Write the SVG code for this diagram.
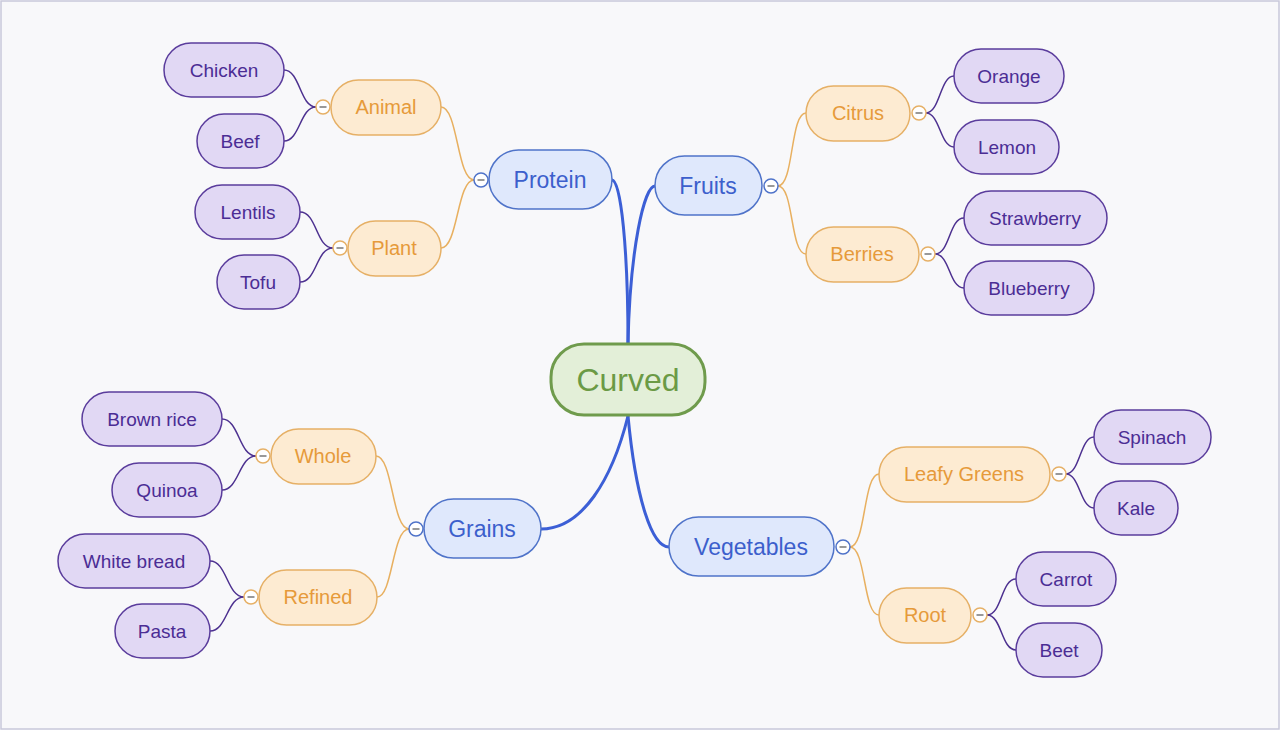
<svg xmlns="http://www.w3.org/2000/svg" width="1280" height="730" viewBox="0 0 1280 730">
<style>
text{font-family:"Liberation Sans",Arial,Helvetica,sans-serif;text-anchor:middle;dominant-baseline:central}
.root rect{fill:#e3efd8;stroke:#6f9b4c;stroke-width:3}
.root text{fill:#6b9a45;font-size:32px}
.l1 rect{fill:#dfe8fc;stroke:#4f73c9;stroke-width:1.5}
.l1 text{fill:#3c5fcc;font-size:23px}
.l2 rect{fill:#fdebd2;stroke:#e6b066;stroke-width:1.5}
.l2 text{fill:#e69a3a;font-size:20px}
.l3 rect{fill:#e1d8f4;stroke:#5a3c9c;stroke-width:1.5}
.l3 text{fill:#4b2d94;font-size:19px}
.c1 path{fill:none;stroke:#3c5fd6;stroke-width:3;stroke-linecap:round}
.c2 path{fill:none;stroke:#e8b060;stroke-width:1.5}
.c3 path{fill:none;stroke:#4d3190;stroke-width:1.5}
.tg circle{fill:#ffffff;stroke-width:1.5}
.tg line{stroke:#777;stroke-width:1.5}
.tb circle{stroke:#4f73c9}
.to circle{stroke:#e6b066}
</style>
<rect x="1" y="1" width="1278" height="728" fill="#f8f8fa" stroke="#c8c8da" stroke-width="1.5"/>
<g id="connectors">
<g class="c1">
<path d="M628,343 C628,250 621,180 612,180"/>
<path d="M628,343 C630,250 644,186 655,186"/>
<path d="M628,416 C612,480 582,529 541,529"/>
<path d="M628,416 C636,500 652,547 669,547"/>
</g>
<g class="c2">
<path d="M474,180 C457,180 458,107 441,107"/>
<path d="M474,180 C457,180 458,248 441,248"/>
<path d="M409,529 C392,529 393,456 376,456"/>
<path d="M409,529 C392,529 393,597 377,597"/>
<path d="M778,186 C794,186 790,113 806,113"/>
<path d="M778,186 C794,186 790,254 806,254"/>
<path d="M850,547 C866,547 863,474 879,474"/>
<path d="M850,547 C866,547 863,615 879,615"/>
</g>
<g class="c3">
<path d="M316,107 C300,107 300,70 284,70"/>
<path d="M316,107 C300,107 300,141 284,141"/>
<path d="M333,248 C316,248 317,212 300,212"/>
<path d="M333,248 C316,248 317,282 300,282"/>
<path d="M256,456 C239,456 239,419 222,419"/>
<path d="M256,456 C239,456 239,490 222,490"/>
<path d="M244,597 C227,597 227,561 210,561"/>
<path d="M244,597 C227,597 227,631 210,631"/>
<path d="M926,113 C940,113 940,76 954,76"/>
<path d="M926,113 C940,113 940,147 954,147"/>
<path d="M935,254 C950,254 949,218 964,218"/>
<path d="M935,254 C950,254 949,288 964,288"/>
<path d="M1066,474 C1080,474 1080,437 1094,437"/>
<path d="M1066,474 C1080,474 1080,508 1094,508"/>
<path d="M987,615 C1002,615 1001,579 1016,579"/>
<path d="M987,615 C1002,615 1001,650 1016,650"/>
</g>
</g>
<g id="root" class="root"><rect x="551" y="344" width="154" height="71" rx="33"/><text x="628" y="380">Curved</text></g>
<g id="protein" class="l1"><rect x="489" y="150" width="123" height="59" rx="29.5"/><text x="550" y="180">Protein</text></g>
<g id="fruits" class="l1"><rect x="655" y="156" width="107" height="59" rx="29.5"/><text x="708" y="186">Fruits</text></g>
<g id="grains" class="l1"><rect x="424" y="499" width="117" height="59" rx="29.5"/><text x="482" y="529">Grains</text></g>
<g id="vegetables" class="l1"><rect x="669" y="517" width="165" height="59" rx="29.5"/><text x="751" y="547">Vegetables</text></g>
<g id="animal" class="l2"><rect x="331" y="80" width="110" height="55" rx="27.5"/><text x="386" y="107">Animal</text></g>
<g id="plant" class="l2"><rect x="348" y="221" width="93" height="55" rx="27.5"/><text x="394" y="248">Plant</text></g>
<g id="citrus" class="l2"><rect x="806" y="86" width="104" height="55" rx="27.5"/><text x="858" y="113">Citrus</text></g>
<g id="berries" class="l2"><rect x="806" y="227" width="113" height="55" rx="27.5"/><text x="862" y="254">Berries</text></g>
<g id="whole" class="l2"><rect x="271" y="429" width="105" height="55" rx="27.5"/><text x="323" y="456">Whole</text></g>
<g id="refined" class="l2"><rect x="259" y="570" width="118" height="55" rx="27.5"/><text x="318" y="597">Refined</text></g>
<g id="leafy" class="l2"><rect x="879" y="447" width="171" height="55" rx="27.5"/><text x="964" y="474">Leafy Greens</text></g>
<g id="rootveg" class="l2"><rect x="879" y="588" width="92" height="55" rx="27.5"/><text x="925" y="615">Root</text></g>
<g id="chicken" class="l3"><rect x="164" y="43" width="120" height="54" rx="27"/><text x="224" y="70">Chicken</text></g>
<g id="beef" class="l3"><rect x="197" y="114" width="87" height="54" rx="27"/><text x="240" y="141">Beef</text></g>
<g id="lentils" class="l3"><rect x="195" y="185" width="105" height="54" rx="27"/><text x="248" y="212">Lentils</text></g>
<g id="tofu" class="l3"><rect x="217" y="255" width="83" height="54" rx="27"/><text x="258" y="282">Tofu</text></g>
<g id="orange" class="l3"><rect x="954" y="49" width="110" height="54" rx="27"/><text x="1009" y="76">Orange</text></g>
<g id="lemon" class="l3"><rect x="954" y="120" width="105" height="54" rx="27"/><text x="1007" y="147">Lemon</text></g>
<g id="strawberry" class="l3"><rect x="964" y="191" width="143" height="54" rx="27"/><text x="1035" y="218">Strawberry</text></g>
<g id="blueberry" class="l3"><rect x="964" y="261" width="130" height="54" rx="27"/><text x="1029" y="288">Blueberry</text></g>
<g id="brownrice" class="l3"><rect x="82" y="392" width="140" height="54" rx="27"/><text x="152" y="419">Brown rice</text></g>
<g id="quinoa" class="l3"><rect x="112" y="463" width="110" height="54" rx="27"/><text x="167" y="490">Quinoa</text></g>
<g id="whitebread" class="l3"><rect x="58" y="534" width="152" height="54" rx="27"/><text x="134" y="561">White bread</text></g>
<g id="pasta" class="l3"><rect x="115" y="604" width="95" height="54" rx="27"/><text x="162" y="631">Pasta</text></g>
<g id="spinach" class="l3"><rect x="1094" y="410" width="117" height="54" rx="27"/><text x="1152" y="437">Spinach</text></g>
<g id="kale" class="l3"><rect x="1094" y="481" width="84" height="54" rx="27"/><text x="1136" y="508">Kale</text></g>
<g id="carrot" class="l3"><rect x="1016" y="552" width="100" height="54" rx="27"/><text x="1066" y="579">Carrot</text></g>
<g id="beet" class="l3"><rect x="1016" y="623" width="86" height="54" rx="27"/><text x="1059" y="650">Beet</text></g>
<g id="toggles" class="tg">
<g class="tb">
<circle cx="481" cy="180" r="7"/><line x1="477.5" y1="180" x2="484.5" y2="180"/>
<circle cx="771" cy="186" r="7"/><line x1="767.5" y1="186" x2="774.5" y2="186"/>
<circle cx="416" cy="529" r="7"/><line x1="412.5" y1="529" x2="419.5" y2="529"/>
<circle cx="843" cy="547" r="7"/><line x1="839.5" y1="547" x2="846.5" y2="547"/>
</g>
<g class="to">
<circle cx="323" cy="107" r="7"/><line x1="319.5" y1="107" x2="326.5" y2="107"/>
<circle cx="340" cy="248" r="7"/><line x1="336.5" y1="248" x2="343.5" y2="248"/>
<circle cx="263" cy="456" r="7"/><line x1="259.5" y1="456" x2="266.5" y2="456"/>
<circle cx="251" cy="597" r="7"/><line x1="247.5" y1="597" x2="254.5" y2="597"/>
<circle cx="919" cy="113" r="7"/><line x1="915.5" y1="113" x2="922.5" y2="113"/>
<circle cx="928" cy="254" r="7"/><line x1="924.5" y1="254" x2="931.5" y2="254"/>
<circle cx="1059" cy="474" r="7"/><line x1="1055.5" y1="474" x2="1062.5" y2="474"/>
<circle cx="980" cy="615" r="7"/><line x1="976.5" y1="615" x2="983.5" y2="615"/>
</g>
</g>
</svg>
